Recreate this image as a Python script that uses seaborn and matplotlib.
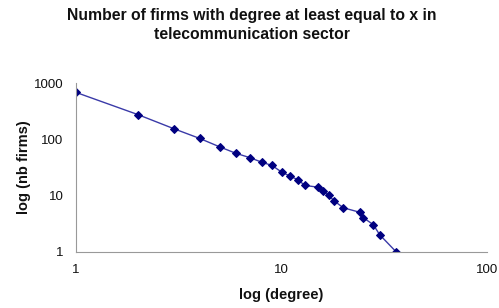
import pandas as pd
import matplotlib
matplotlib.use("Agg")
from matplotlib import pyplot as plt
from matplotlib.ticker import FixedLocator, NullLocator, FixedFormatter
import seaborn as sns

# ---------------- DATA ----------------------------------------------------
degree = [1, 2, 3, 4, 5, 6, 7, 8, 9, 10, 11, 12, 13, 15, 16, 17, 18, 20, 24, 25, 28, 30, 36]
nb_firms = [680, 274, 153, 103, 73, 56, 47, 39, 34, 26, 22, 19, 15, 14, 12, 10, 8, 6, 5, 4, 3, 2, 1]

x_ticks = [1, 10, 100]
y_ticks = [1, 10, 100, 1000]

df = pd.DataFrame({"degree": degree, "nb_firms": nb_firms})

sns.set_style("white")
plt.rcParams['font.family'] = ['Liberation Sans', 'DejaVu Sans']

fig = plt.figure(figsize=(4.99, 3.08), dpi=100)
ax = fig.add_axes([76 / 499, (308 - 251.5) / 308, (487 - 76) / 499, (251.5 - 83) / 308])

sns.lineplot(x="degree", y="nb_firms", data=df, ax=ax, color="#3a3aa8", linewidth=1.0,
             marker="D", markersize=4, markerfacecolor="#000080", markeredgecolor="#000080")

ax.set_xscale("log")
ax.set_yscale("log")
ax.set_xlim(1, 100)
ax.set_ylim(1, 1000)
ax.xaxis.set_major_locator(FixedLocator(x_ticks))
ax.xaxis.set_major_formatter(FixedFormatter([str(t) for t in x_ticks]))
ax.xaxis.set_minor_locator(NullLocator())
ax.yaxis.set_major_locator(FixedLocator(y_ticks))
ax.yaxis.set_major_formatter(FixedFormatter([str(t) for t in y_ticks]))
ax.yaxis.set_minor_locator(NullLocator())

for side in ["top", "right"]:
    ax.spines[side].set_visible(False)
for side in ["left", "bottom"]:
    ax.spines[side].set_color("#999999")
    ax.spines[side].set_linewidth(0.8)
ax.tick_params(axis="both", which="major", direction="out", length=4, width=0.8,
               color="#999999", labelsize=9.5, labelcolor="#111111", pad=5)

ax.set_xlabel("log (degree)", fontsize=10.5, fontweight="bold", labelpad=9, color="#111111")
ax.set_ylabel("log (nb firms)", fontsize=10.5, fontweight="bold", labelpad=2, color="#111111")
fig.suptitle("Number of firms with degree at least equal to x in\ntelecommunication sector",
             fontsize=11.3, fontweight="bold", y=0.975, x=0.505, color="#111111", linespacing=1.35)

fig.savefig("out.png", dpi=100)
